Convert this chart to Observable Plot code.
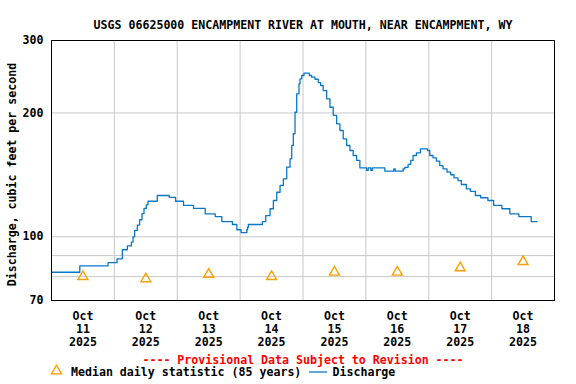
<!DOCTYPE html>
<html><head><meta charset="utf-8">
<script src="https://cdn.jsdelivr.net/npm/d3@7"></script>
<script src="https://cdn.jsdelivr.net/npm/@observablehq/plot@0.6"></script>
<style>
body{margin:0;background:#fff;}
#chart{width:576px;height:384px;}
</style></head><body><div id="chart"></div>
<script>
const title = "USGS 06625000 ENCAMPMENT RIVER AT MOUTH, NEAR ENCAMPMENT, WY";
const yLabel = "Discharge, cubic feet per second";
const provisional = "---- Provisional Data Subject to Revision ----";
const legendMedian = "Median daily statistic (85 years)";
const legendDischarge = "Discharge";
const startDate = "2025-10-11T00:00Z";
const endDate = "2025-10-19T00:00Z";
const days = ["2025-10-11","2025-10-12","2025-10-13","2025-10-14","2025-10-15","2025-10-16","2025-10-17","2025-10-18"];
const medianCfs = [80, 79, 81, 80, 82, 82, 84, 87];
const yTicks = [70, 100, 200, 300];
const yGrid = [80, 90, 100, 200];
// hours since Oct 11 00:00 and discharge (cfs)
const hours = [0,10.8,21.6,25.0,27.05,28.95,30.48,31.12,31.73,32.76,33.64,34.55,35.31,36.19,36.84,40.38,44.95,47.35,50.4,54.21,58.67,62.48,65.03,69.07,70.74,72.38,74.55,74.86,75.16,80.5,81.79,83.43,84.69,85.98,87.24,88.5,89.79,91.05,91.7,92.3,92.95,93.6,94.48,94.86,95.5,96.38,98.4,99.31,100.57,101.83,102.74,103.73,105.03,106.29,107.54,108.84,110.1,111.35,112.65,113.9,115.16,116.46,117.71,120.27,120.88,121.9,122.48,127.24,130.67,131.2,134.21,134.85,136.11,137.14,138.02,139.31,140.84,143.5,144.38,145.64,146.93,148.19,149.45,150.97,152.38,153.64,155.16,156.46,158.36,159.89,161.79,163.81,166.59,168.76,171.92,174.97,178.4,183.12,185.4];
const cfs = [82,85,86.5,88.4,93,95,97,100,103.6,106.7,110,113.8,117.2,119.6,122,126,124.7,122,119.2,117.2,113.7,112,108.8,107.1,104,102.3,104,105.5,107.1,108.8,112.6,117,122.5,128.3,133.3,138.3,147.6,154.7,166.7,178,200.8,222.6,235.4,242.1,246.6,249.8,246.6,244.3,241.5,237,233.2,226.7,216.5,206.5,197.2,188.2,181.3,173,166.7,162.1,157.6,153.3,147.1,145,147,145,147,144.4,146.3,144.4,146.3,147.5,149.9,153.3,157.6,160,163.6,162.1,157.6,155.6,152.7,149,146.3,143.6,141.5,139,137,134,130.8,129,126,124.4,122.5,119.2,117,113.7,112,108.9,108.9];

const t0 = new Date(startDate);
const flow = hours.map((h, i) => ({t: new Date(+t0 + h * 3600e3), v: cfs[i]}));
const med = days.map((d, i) => ({t: new Date(d + "T12:00Z"), v: medianCfs[i]}));
const dayLines = days.slice(1).map(d => new Date(d + "T00:00Z"));
const noon = days.map(d => new Date(d + "T12:00Z"));
const fmt = d3.utcFormat("%b\n%d\n%Y");
const blue = "#0a78c8", orange = "#ffa000";

const plot = Plot.plot({
  width: 576, height: 384,
  marginTop: 40, marginBottom: 84, marginLeft: 51, marginRight: 22,
  style: {fontFamily: "'DejaVu Sans Mono', monospace", fontWeight: "bold", fontSize: "11.6px", color: "#000", background: "#fff"},
  x: {type: "utc", domain: [new Date(startDate), new Date(endDate)]},
  y: {type: "log", domain: [70, 300]},
  marks: [
    Plot.ruleX(dayLines, {stroke: "#c8c8c8", strokeWidth: 1}),
    Plot.ruleY(yGrid, {stroke: "#c8c8c8", strokeWidth: 1}),
    Plot.line(flow, {x: "t", y: "v", stroke: blue, strokeWidth: 1.3, curve: "step-after"}),
    Plot.dot(med, {x: "t", y: "v", symbol: "triangle", r: 3.7, stroke: orange, fill: "none", strokeWidth: 1.4}),
    Plot.frame({stroke: "#000", strokeWidth: 1}),
    Plot.axisY(yTicks, {tickSize: 0, tickPadding: 8, tickFormat: d => String(d), label: null}),
    Plot.axisX(noon, {tickSize: 0, tickPadding: 10, tickFormat: fmt, lineHeight: 1.12, label: null}),
    Plot.text([yLabel], {frameAnchor: "left", textAnchor: "middle", rotate: -90, dx: -39, dy: 4, fill: "#000"}),
    Plot.text([title], {frameAnchor: "top", dy: -20, fontSize: 11.6, fill: "#000"}),
    Plot.text([provisional], {frameAnchor: "bottom", dy: 63, fill: "#ff0000"})
  ]
});
document.getElementById("chart").appendChild(plot);

// legend
const svg = d3.select(plot);
const lg = svg.append("g").attr("font-family", "'DejaVu Sans Mono', monospace").attr("font-weight", "bold").attr("font-size", "11.6px").attr("text-anchor", "start");
lg.append("path").attr("d", d3.symbol(d3.symbolTriangle, Math.PI * 3.7 * 3.7)()).attr("transform", "translate(56.5,371)")
  .attr("fill", "none").attr("stroke", orange).attr("stroke-width", 1.4);
lg.append("text").attr("x", 71).attr("y", 372).attr("dy", "0.35em").attr("fill", "#000").text(legendMedian);
lg.append("line").attr("x1", 309).attr("x2", 327).attr("y1", 372).attr("y2", 372).attr("stroke", blue).attr("stroke-width", 1.3);
lg.append("text").attr("x", 332.5).attr("y", 372).attr("dy", "0.35em").attr("fill", "#000").text(legendDischarge);
</script></body></html>
